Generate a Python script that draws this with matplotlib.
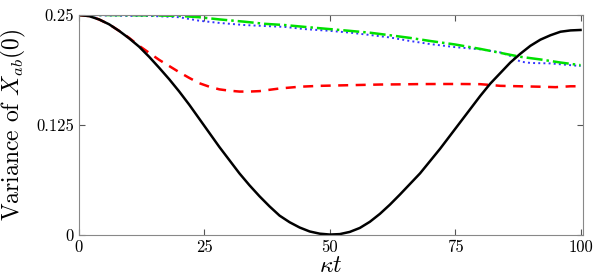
import numpy as np
import matplotlib
matplotlib.use('Agg')
import matplotlib.pyplot as plt

plt.rcParams['font.family'] = 'serif'
plt.rcParams['font.serif'] = ['cmr10', 'DejaVu Serif']
plt.rcParams['mathtext.fontset'] = 'cm'
plt.rcParams['axes.unicode_minus'] = False
plt.rcParams['axes.formatter.use_mathtext'] = True

# values
t_black = list(range(0, 101, 2))
v_black = [0.250, 0.2488, 0.245, 0.2395, 0.232, 0.2235, 0.214, 0.2025, 0.190,
           0.177, 0.163, 0.148, 0.132, 0.116, 0.100, 0.085, 0.070, 0.0565, 0.044,
           0.0325, 0.022, 0.0145, 0.0085, 0.004, 0.0015, 0.0005, 0.001, 0.0035,
           0.008, 0.015, 0.024, 0.0345, 0.046, 0.058, 0.070, 0.084, 0.098, 0.113,
           0.128, 0.143, 0.158, 0.172, 0.184, 0.196, 0.206, 0.215, 0.222, 0.227,
           0.231, 0.2325, 0.233]

t_red = [0, 2, 4, 6, 8, 10, 12, 14, 16, 18, 20, 22, 24, 26, 28, 30, 32, 34, 36,
         40, 44, 48, 52, 56, 60, 64, 68, 72, 76, 80, 82, 84, 88, 92, 95, 98, 100]
v_red = [0.250, 0.2488, 0.245, 0.2395, 0.232, 0.224, 0.215, 0.207, 0.199, 0.192,
         0.185, 0.1785, 0.1725, 0.1685, 0.1655, 0.164, 0.163, 0.163, 0.1635,
         0.1665, 0.1685, 0.1695, 0.170, 0.1705, 0.171, 0.1712, 0.1715, 0.1716,
         0.1716, 0.1714, 0.1705, 0.1695, 0.169, 0.1685, 0.168, 0.169, 0.169]

t_green = [0, 5, 10, 15, 20, 24, 28, 33, 37, 41, 45, 50, 54, 58, 62, 66, 70, 75,
           80, 84, 88, 92, 96, 100]
v_green = [0.250, 0.250, 0.2498, 0.2495, 0.249, 0.2475, 0.245, 0.2424, 0.240,
           0.2386, 0.2365, 0.234, 0.232, 0.2299, 0.227, 0.224, 0.2205, 0.2165,
           0.2115, 0.207, 0.2025, 0.1995, 0.196, 0.193]

t_blue = [0, 5, 10, 15, 20, 24, 28, 33, 37, 41, 45, 50, 54, 58, 62, 66, 70, 75,
          80, 84, 86, 88, 90, 94, 97, 100]
v_blue = [0.250, 0.2495, 0.249, 0.2488, 0.2475, 0.2435, 0.241, 0.2386, 0.2375,
          0.2365, 0.234, 0.232, 0.230, 0.2273, 0.2245, 0.2205, 0.217, 0.2135,
          0.211, 0.2075, 0.2035, 0.197, 0.1955, 0.195, 0.1935, 0.192]

fig = plt.figure(figsize=(5.98, 2.76), dpi=100)
ax = fig.add_axes([0.132, 0.1486, 0.843, 0.797])

ax.plot(t_blue, v_blue, color='#3333ff', linestyle=':', lw=1.4)
ax.plot(t_green, v_green, color='#00e000', linestyle='-.', lw=1.8)
ax.plot(t_red, v_red, color='#ff0000', linestyle=(0, (4, 3)), lw=1.8)
ax.plot(t_black, v_black, color='black', linestyle='-', lw=1.8)

ax.set_xlim(0, 100.5)
ax.set_ylim(0, 0.25)
ax.set_xticks([0, 25, 50, 75, 100])
ax.set_xticklabels(['0', '25', '50', '75', '100'])
ax.set_yticks([0, 0.125, 0.25])
ax.set_yticklabels(['0', '0.125', '0.25'])
ax.tick_params(direction='in', top=True, right=True, labelsize=12, length=4,
               color='#555555')
for s in ax.spines.values():
    s.set_color('#888888')

ax.set_xlabel(r'$\kappa t$', fontsize=17, labelpad=0)
ax.set_ylabel(r'Variance of $X_{ab}(0)$', fontsize=17, labelpad=6)

fig.savefig('out.png', dpi=100)
